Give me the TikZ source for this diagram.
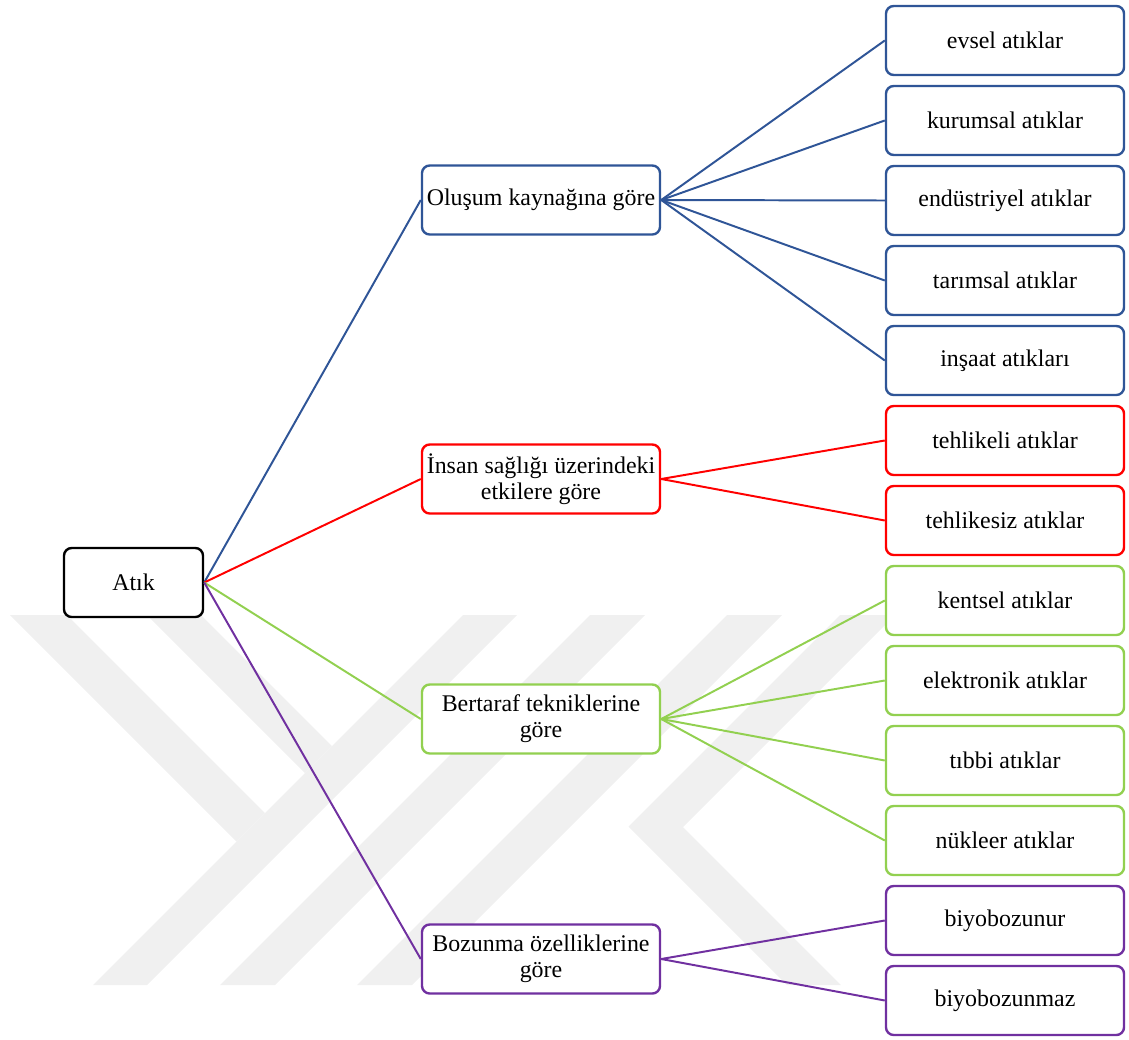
\documentclass[tikz,border=0pt]{standalone}
\usepackage{fontspec}
\setmainfont{Liberation Serif}
\usepackage{tikz}
\definecolor{mavi}{RGB}{47,85,151}
\definecolor{kirmizi}{RGB}{255,0,0}
\definecolor{yesil}{RGB}{146,208,80}
\definecolor{mor}{RGB}{112,48,160}
\definecolor{filigran}{RGB}{240,240,240}

\begin{document}
\begin{tikzpicture}[x=0.025cm, y=-0.025cm,
    kutu/.style={draw, fill=white, rounded corners=5.5pt, line width=1.7pt, align=center,
        minimum width=5.95cm, minimum height=1.725cm, inner sep=2pt,
        font=\fontsize{17}{18.5}\selectfont},
    kol/.style={line width=1.4pt}]

    \useasboundingbox (0, 0) rectangle (1129, 1039);

    \fill [filigran] (10, 615) -- (67, 615) -- (265, 813) -- (236.5, 841.5) -- cycle;
    \fill [filigran] (147, 615) -- (201, 615) -- (332, 746) -- (305, 773) -- cycle;
    \fill [filigran] (463, 615) -- (517, 615) -- (147, 985) -- (93, 985) -- cycle;
    \fill [filigran] (590, 615) -- (645, 615) -- (275, 985) -- (220, 985) -- cycle;
    \fill [filigran] (727, 615) -- (782, 615) -- (412, 985) -- (357, 985) -- cycle;
    \fill [filigran] (840, 615) -- (895, 615) -- (683, 827) -- (841, 985) -- (787, 985) -- (628.5, 826.5) -- cycle;

    \node [kutu, draw=black, minimum width=3.475cm] (atik) at (133.5, 582.5) {Atık};

    \node [kutu, draw=mavi] (olusum) at (541, 200) {Oluşum kaynağına göre};
    \node [kutu, draw=kirmizi] (insan) at (541, 479) {İnsan sağlığı üzerindeki\\etkilere göre};
    \node [kutu, draw=yesil] (bertaraf) at (541, 719) {Bertaraf tekniklerine\\göre};
    \node [kutu, draw=mor] (bozunma) at (541, 959) {Bozunma özelliklerine\\göre};

    \node [kutu, draw=mavi] (evsel) at (1005, 40.5) {evsel atıklar};
    \node [kutu, draw=mavi] (kurumsal) at (1005, 120.5) {kurumsal atıklar};
    \node [kutu, draw=mavi] (endustriyel) at (1005, 200.5) {endüstriyel atıklar};
    \node [kutu, draw=mavi] (tarimsal) at (1005, 280.5) {tarımsal atıklar};
    \node [kutu, draw=mavi] (insaat) at (1005, 360.5) {inşaat atıkları};
    \node [kutu, draw=kirmizi] (tehlikeli) at (1005, 440.5) {tehlikeli atıklar};
    \node [kutu, draw=kirmizi] (tehlikesiz) at (1005, 520.5) {tehlikesiz atıklar};
    \node [kutu, draw=yesil] (kentsel) at (1005, 600.5) {kentsel atıklar};
    \node [kutu, draw=yesil] (elektronik) at (1005, 680.5) {elektronik atıklar};
    \node [kutu, draw=yesil] (tibbi) at (1005, 760.5) {tıbbi atıklar};
    \node [kutu, draw=yesil] (nukleer) at (1005, 840.5) {nükleer atıklar};
    \node [kutu, draw=mor] (biyo) at (1005, 920.5) {biyobozunur};
    \node [kutu, draw=mor] (biyomaz) at (1005, 1000.5) {biyobozunmaz};

    \draw [kol, mavi] (atik.east) -- (olusum.west);
    \draw [kol, kirmizi] (atik.east) -- (insan.west);
    \draw [kol, yesil] (atik.east) -- (bertaraf.west);
    \draw [kol, mor] (atik.east) -- (bozunma.west);

    \draw [kol, mavi] (olusum.east) -- (evsel.west);
    \draw [kol, mavi] (olusum.east) -- (kurumsal.west);
    \draw [kol, mavi] (olusum.east) -- (endustriyel.west);
    \draw [kol, mavi] (olusum.east) -- (tarimsal.west);
    \draw [kol, mavi] (olusum.east) -- (insaat.west);
    \draw [kol, kirmizi] (insan.east) -- (tehlikeli.west);
    \draw [kol, kirmizi] (insan.east) -- (tehlikesiz.west);
    \draw [kol, yesil] (bertaraf.east) -- (kentsel.west);
    \draw [kol, yesil] (bertaraf.east) -- (elektronik.west);
    \draw [kol, yesil] (bertaraf.east) -- (tibbi.west);
    \draw [kol, yesil] (bertaraf.east) -- (nukleer.west);
    \draw [kol, mor] (bozunma.east) -- (biyo.west);
    \draw [kol, mor] (bozunma.east) -- (biyomaz.west);

\end{tikzpicture}
\end{document}
